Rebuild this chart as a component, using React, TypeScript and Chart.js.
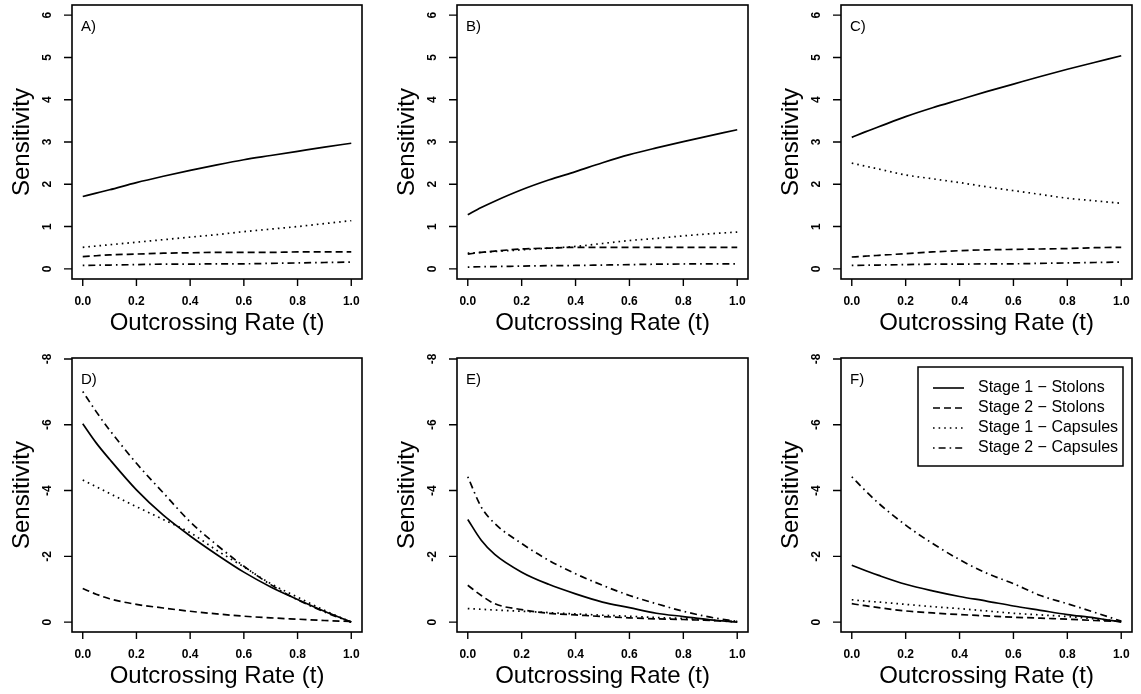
import React, { useEffect, useRef } from 'react';
import { Chart, registerables } from 'chart.js';
Chart.register(...registerables);

// ---------------- DATA ----------------
const T = [0, 0.05, 0.1, 0.2, 0.3, 0.4, 0.5, 0.6, 0.7, 0.8, 0.9, 1.0];

const SERIES_LABELS = ['Stage 1 \u2212 Stolons', 'Stage 2 \u2212 Stolons', 'Stage 1 \u2212 Capsules', 'Stage 2 \u2212 Capsules'];
const PANEL_LABELS = ['A)', 'B)', 'C)', 'D)', 'E)', 'F)'];
const X_TICKS = [0, 0.2, 0.4, 0.6, 0.8, 1.0];
const X_TICK_LABELS = ['0.0', '0.2', '0.4', '0.6', '0.8', '1.0'];
const Y_TICKS_TOP = [0, 1, 2, 3, 4, 5, 6];
const Y_TICKS_BOTTOM = [0, -2, -4, -6, -8];
const X_TITLE = 'Outcrossing Rate (t)';
const Y_TITLE = 'Sensitivity';

// Panel A
const A_S1_STOLONS = [1.71, 1.79, 1.87, 2.04, 2.19, 2.33, 2.46, 2.58, 2.68, 2.78, 2.88, 2.97];
const A_S2_STOLONS = [0.29, 0.31, 0.33, 0.35, 0.37, 0.38, 0.39, 0.39, 0.39, 0.40, 0.40, 0.40];
const A_S1_CAPSULES = [0.51, 0.54, 0.57, 0.63, 0.69, 0.75, 0.81, 0.88, 0.94, 1.0, 1.07, 1.14];
const A_S2_CAPSULES = [0.08, 0.085, 0.09, 0.10, 0.11, 0.11, 0.12, 0.12, 0.13, 0.14, 0.15, 0.16];
// Panel B
const B_S1_STOLONS = [1.28, 1.45, 1.60, 1.87, 2.10, 2.30, 2.51, 2.70, 2.86, 3.01, 3.15, 3.29];
const B_S2_STOLONS = [0.35, 0.39, 0.42, 0.47, 0.49, 0.51, 0.51, 0.51, 0.51, 0.51, 0.51, 0.51];
const B_S1_CAPSULES = [0.37, 0.39, 0.41, 0.45, 0.49, 0.53, 0.60, 0.67, 0.72, 0.78, 0.83, 0.87];
const B_S2_CAPSULES = [0.04, 0.05, 0.055, 0.065, 0.075, 0.08, 0.09, 0.10, 0.11, 0.115, 0.12, 0.12];
// Panel C
const C_S1_STOLONS = [3.11, 3.24, 3.36, 3.60, 3.81, 4.00, 4.19, 4.37, 4.55, 4.72, 4.88, 5.04];
const C_S2_STOLONS = [0.28, 0.30, 0.32, 0.36, 0.40, 0.43, 0.45, 0.46, 0.47, 0.48, 0.50, 0.51];
const C_S1_CAPSULES = [2.5, 2.43, 2.36, 2.22, 2.13, 2.04, 1.94, 1.85, 1.76, 1.67, 1.61, 1.55];
const C_S2_CAPSULES = [0.08, 0.085, 0.09, 0.10, 0.11, 0.11, 0.12, 0.12, 0.13, 0.14, 0.15, 0.16];
// Panel D
const D_S1_STOLONS = [-6.03, -5.45, -4.95, -4.02, -3.25, -2.62, -2.05, -1.52, -1.07, -0.69, -0.33, 0];
const D_S2_STOLONS = [-1.02, -0.85, -0.71, -0.54, -0.43, -0.33, -0.25, -0.18, -0.13, -0.09, -0.05, -0.02];
const D_S1_CAPSULES = [-4.32, -4.12, -3.91, -3.51, -3.12, -2.72, -2.18, -1.68, -1.17, -0.76, -0.36, 0];
const D_S2_CAPSULES = [-7.01, -6.4, -5.84, -4.83, -3.93, -3.05, -2.34, -1.70, -1.14, -0.68, -0.31, 0];
// Panel E
const E_S1_STOLONS = [-3.12, -2.49, -2.06, -1.52, -1.15, -0.86, -0.61, -0.44, -0.27, -0.17, -0.07, 0];
const E_S2_STOLONS = [-1.12, -0.81, -0.56, -0.38, -0.27, -0.22, -0.17, -0.13, -0.10, -0.08, -0.05, -0.02];
const E_S1_CAPSULES = [-0.41, -0.39, -0.37, -0.33, -0.29, -0.25, -0.21, -0.18, -0.14, -0.11, -0.06, 0];
const E_S2_CAPSULES = [-4.42, -3.5, -3.0, -2.39, -1.88, -1.47, -1.12, -0.81, -0.56, -0.33, -0.15, -0.02];
// Panel F
const F_S1_STOLONS = [-1.73, -1.57, -1.42, -1.15, -0.95, -0.78, -0.64, -0.49, -0.36, -0.23, -0.13, 0];
const F_S2_STOLONS = [-0.56, -0.50, -0.44, -0.34, -0.28, -0.23, -0.19, -0.15, -0.12, -0.09, -0.05, -0.02];
const F_S1_CAPSULES = [-0.68, -0.64, -0.61, -0.54, -0.47, -0.41, -0.34, -0.27, -0.22, -0.17, -0.10, -0.02];
const F_S2_CAPSULES = [-4.42, -4.0, -3.61, -2.95, -2.39, -1.90, -1.49, -1.17, -0.81, -0.56, -0.30, -0.03];

const PANEL_SERIES = [
  [A_S1_STOLONS, A_S2_STOLONS, A_S1_CAPSULES, A_S2_CAPSULES],
  [B_S1_STOLONS, B_S2_STOLONS, B_S1_CAPSULES, B_S2_CAPSULES],
  [C_S1_STOLONS, C_S2_STOLONS, C_S1_CAPSULES, C_S2_CAPSULES],
  [D_S1_STOLONS, D_S2_STOLONS, D_S1_CAPSULES, D_S2_CAPSULES],
  [E_S1_STOLONS, E_S2_STOLONS, E_S1_CAPSULES, E_S2_CAPSULES],
  [F_S1_STOLONS, F_S2_STOLONS, F_S1_CAPSULES, F_S2_CAPSULES],
];

// ---------------- LAYOUT / STYLE ----------------
const W = 1141;
const H = 694;
const FONT = '"Liberation Sans", Arial, Helvetica, sans-serif';
const COL_LEFT = [72, 457, 841];
const COL_RIGHT = [362, 748, 1132];
const ROW_TOP = [5, 358];
const ROW_BOTTOM = [279, 632];
const DASHES: number[][] = [[], [7, 4], [1.6, 4], [1.6, 4, 7, 4]];

function makeAxesPlugin(idx: number) {
  const topRow = idx < 3;
  const yTicks = topRow ? Y_TICKS_TOP : Y_TICKS_BOTTOM;
  return {
    id: 'rAxes' + idx,
    afterDraw(chart: any) {
      const ctx = chart.ctx as CanvasRenderingContext2D;
      const a = chart.chartArea;
      const xs = chart.scales.x;
      const ys = chart.scales.y;
      ctx.save();
      ctx.setLineDash([]);
      ctx.strokeStyle = '#000';
      ctx.fillStyle = '#000';
      ctx.lineWidth = 1.6;
      ctx.strokeRect(a.left, a.top, a.right - a.left, a.bottom - a.top);

      // x ticks
      ctx.lineWidth = 1.4;
      ctx.beginPath();
      X_TICKS.forEach((v) => {
        const px = xs.getPixelForValue(v);
        ctx.moveTo(px, a.bottom);
        ctx.lineTo(px, a.bottom + 7);
      });
      ctx.stroke();
      ctx.font = `bold 12px ${FONT}`;
      ctx.textAlign = 'center';
      ctx.textBaseline = 'middle';
      X_TICKS.forEach((v, i) => {
        ctx.fillText(X_TICK_LABELS[i], xs.getPixelForValue(v), a.bottom + 23);
      });

      // y ticks
      ctx.beginPath();
      yTicks.forEach((v) => {
        const py = ys.getPixelForValue(v);
        ctx.moveTo(a.left, py);
        ctx.lineTo(a.left - 8, py);
      });
      ctx.stroke();
      yTicks.forEach((v) => {
        const py = ys.getPixelForValue(v);
        ctx.save();
        ctx.translate(a.left - 24, py);
        ctx.rotate(-Math.PI / 2);
        ctx.fillText(String(v), 0, 0);
        ctx.restore();
      });

      // titles
      ctx.font = `24px ${FONT}`;
      ctx.fillText(X_TITLE, (a.left + a.right) / 2, a.bottom + 44);
      ctx.save();
      ctx.translate(a.left - 50, (a.top + a.bottom) / 2);
      ctx.rotate(-Math.PI / 2);
      ctx.fillText(Y_TITLE, 0, 0);
      ctx.restore();

      // panel label
      ctx.font = `15px ${FONT}`;
      ctx.textAlign = 'left';
      ctx.fillText(PANEL_LABELS[idx], a.left + 9, a.top + 22);

      // legend in last panel
      if (idx === 5) {
        const lx = a.left + 77;
        const ly = a.top + 9;
        const lw = 205;
        const lh = 99;
        ctx.fillStyle = '#fff';
        ctx.fillRect(lx, ly, lw, lh);
        ctx.lineWidth = 1.5;
        ctx.strokeRect(lx, ly, lw, lh);
        ctx.fillStyle = '#000';
        ctx.font = `16px ${FONT}`;
        SERIES_LABELS.forEach((lab, i) => {
          const ry = ly + 21 + i * 20;
          ctx.setLineDash(DASHES[i]);
          ctx.lineWidth = 1.6;
          ctx.beginPath();
          ctx.moveTo(lx + 15, ry);
          ctx.lineTo(lx + 46, ry);
          ctx.stroke();
          ctx.setLineDash([]);
          ctx.fillText(lab, lx + 60, ry);
        });
      }
      ctx.restore();
    },
  };
}

function Panel({ idx }: { idx: number }) {
  const ref = useRef<HTMLCanvasElement | null>(null);
  useEffect(() => {
    const col = idx % 3;
    const row = Math.floor(idx / 3);
    const topRow = row === 0;
    const chart = new Chart(ref.current as HTMLCanvasElement, {
      type: 'line',
      data: {
        datasets: PANEL_SERIES[idx].map((s, i) => ({
          label: SERIES_LABELS[i],
          data: T.map((t, j) => ({ x: t, y: s[j] })),
          borderColor: '#000',
          borderWidth: 1.7,
          borderDash: DASHES[i],
          pointRadius: 0,
          fill: false,
          cubicInterpolationMode: 'monotone' as const,
        })),
      },
      options: {
        responsive: false,
        animation: false,
        events: [],
        layout: {
          padding: {
            left: COL_LEFT[col],
            right: W - COL_RIGHT[col],
            top: ROW_TOP[row],
            bottom: H - ROW_BOTTOM[row],
          },
        },
        plugins: { legend: { display: false }, tooltip: { enabled: false } },
        scales: {
          x: { type: 'linear', min: -0.04, max: 1.04, display: false },
          y: topRow
            ? { type: 'linear', min: -0.24, max: 6.24, display: false }
            : { type: 'linear', min: -8.03, max: 0.3, reverse: true, display: false },
        },
      },
      plugins: [makeAxesPlugin(idx)],
    } as any);
    return () => chart.destroy();
  }, [idx]);
  return (
    <canvas
      ref={ref}
      width={W}
      height={H}
      style={{ position: 'absolute', left: 0, top: 0, width: W, height: H }}
    />
  );
}

export default function App() {
  return (
    <div style={{ position: 'absolute', left: 0, top: 0, width: W, height: H, background: '#fff' }}>
      {[0, 1, 2, 3, 4, 5].map((i) => (
        <Panel key={i} idx={i} />
      ))}
    </div>
  );
}
